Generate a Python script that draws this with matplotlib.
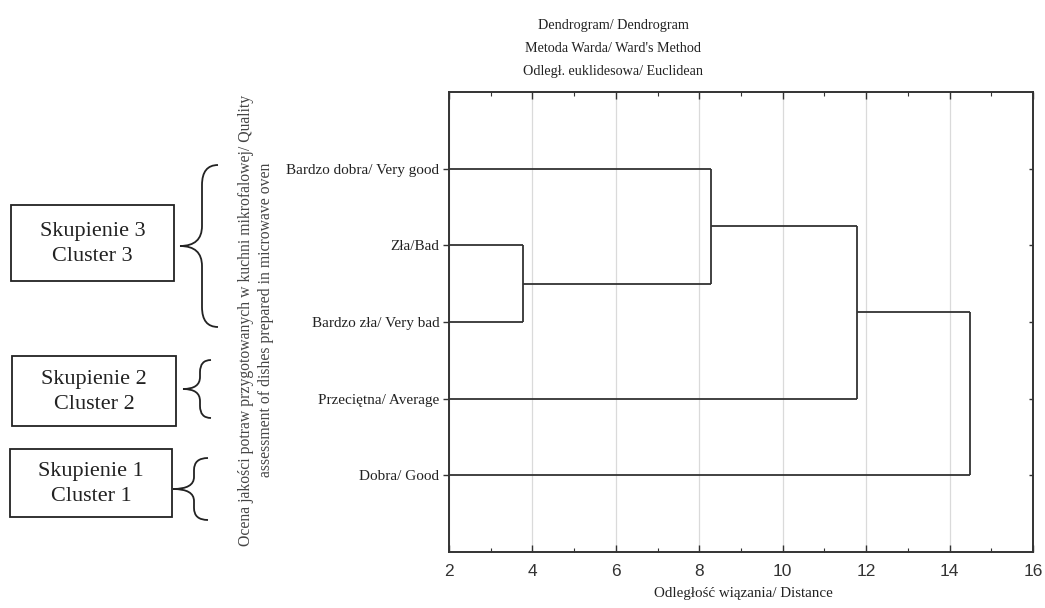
import matplotlib.pyplot as plt
from matplotlib.path import Path
from matplotlib.patches import PathPatch, Rectangle
import numpy as np

# leaves from top to bottom, as in the chart
labels = ["Bardzo dobra/ Very good", "Zła/Bad", "Bardzo zła/ Very bad",
          "Przeciętna/ Average", "Dobra/ Good"]
# linkage: (child a, child b, distance); ids >= 5 refer to earlier merges
merge_a = [1, 0, 6, 7]
merge_b = [2, 5, 3, 4]
merge_dist = [3.77, 8.27, 11.77, 14.5]

x_min, x_max = 2, 16
x_ticks = [2, 4, 6, 8, 10, 12, 14, 16]

title_lines = ["Dendrogram/ Dendrogram", "Metoda Warda/ Ward's Method",
               "Odległ. euklidesowa/ Euclidean"]
x_label = "Odległość wiązania/ Distance"
y_label = ("Ocena jakości potraw przygotowanych w kuchni mikrofalowej/ Quality\n"
           "assessment of dishes prepared in microwave oven")

cluster_names = ["Skupienie 3\nCluster 3", "Skupienie 2\nCluster 2", "Skupienie 1\nCluster 1"]

SERIF = "Liberation Serif"
SANS = "Liberation Sans"
LINE = "#333333"

W, H = 1045, 608
fig = plt.figure(figsize=(W / 100, H / 100), dpi=100)


def fx(px):
    return px / W


def fy(py):
    return 1 - py / H


ax = fig.add_axes([fx(449), fy(552), fx(1033 - 449), (552 - 92) / H])

# dendrogram
n = len(labels)
pos_y = list(range(1, n + 1))
pos_x = [x_min] * n
for a, b, d in zip(merge_a, merge_b, merge_dist):
    for c in (a, b):
        ax.plot([pos_x[c], d], [pos_y[c], pos_y[c]], color=LINE, lw=1.3,
                solid_capstyle="butt", zorder=3)
    ax.plot([d, d], [pos_y[a], pos_y[b]], color=LINE, lw=1.3,
            solid_capstyle="butt", zorder=3)
    pos_y.append((pos_y[a] + pos_y[b]) / 2)
    pos_x.append(d)

ax.set_xlim(x_min, x_max)
ax.set_ylim(n + 1, 0)
ax.set_xticks(x_ticks)
ax.set_xticks(np.arange(3, 16, 2), minor=True)
ax.set_yticks(range(1, n + 1))
ax.set_yticklabels(labels, family=SERIF, fontsize=11, color="#222222")
ax.set_xticklabels([str(t) for t in x_ticks], family=SANS, fontsize=12.5,
                   color="#333333")
ax.grid(axis="x", which="major", color="#dadada", lw=0.9, zorder=0)
ax.tick_params(axis="x", which="major", direction="in", top=True, length=5,
               width=1, color=LINE, pad=9)
ax.tick_params(axis="x", which="minor", direction="in", top=True, length=3,
               width=0.8, color=LINE)
ax.tick_params(axis="y", which="major", direction="out", left=True, length=4,
               width=1, color=LINE, pad=3)
for sp in ax.spines.values():
    sp.set_color(LINE)
    sp.set_linewidth(1.4)

# right-side inward ticks
ax2 = ax.twinx()
ax2.set_ylim(n + 1, 0)
ax2.set_yticks(range(1, n + 1))
ax2.set_yticklabels([])
ax2.tick_params(axis="y", direction="in", length=3, width=1, color=LINE)
for sp in ax2.spines.values():
    sp.set_visible(False)

# titles and axis labels
for i, t in enumerate(title_lines):
    fig.text(fx(613), fy(25 + i * 23), t, family=SERIF, fontsize=10.2,
             ha="center", va="center", color="#222222")
fig.text(fx(743), fy(594), x_label, family=SERIF, fontsize=10.8,
         ha="center", va="center", color="#222222")
fig.text(fx(256), fy(320), y_label, family=SERIF, fontsize=11.3, rotation=90,
         ha="center", va="center", multialignment="center", color="#444444",
         linespacing=1.35)

# cluster boxes and braces (layout: px boxes, brace geometry)
boxes = [(11, 205, 174, 281), (12, 356, 176, 426), (10, 449, 172, 517)]
braces = [(218, 165, 327, 202, 180, 20), (211, 360, 418, 200, 183, 12),
          (208, 458, 520, 194, 173, 12)]

for name, (x0, y0, x1, y1) in zip(cluster_names, boxes):
    fig.patches.append(Rectangle((fx(x0), fy(y1)), fx(x1 - x0), (y1 - y0) / H,
                                 transform=fig.transFigure, fill=False,
                                 ec="#222222", lw=1.3))
    fig.text(fx((x0 + x1) / 2), fy((y0 + y1) / 2 + 1), name, family=SERIF,
             fontsize=16, ha="center", va="center", linespacing=1.45,
             color="#222222")

for xr, yt, yb, xv, xt, r in braces:
    yc = (yt + yb) / 2
    pts = [(xr, yt), (xv, yt), (xv, yt + r), (xv, yc - r), (xv, yc), (xt, yc),
           (xv, yc), (xv, yc + r), (xv, yb - r), (xv, yb), (xr, yb)]
    codes = [Path.MOVETO, Path.CURVE3, Path.CURVE3, Path.LINETO, Path.CURVE3,
             Path.CURVE3, Path.CURVE3, Path.CURVE3, Path.LINETO, Path.CURVE3,
             Path.CURVE3]
    verts = [(fx(px), fy(py)) for px, py in pts]
    fig.patches.append(PathPatch(Path(verts, codes), transform=fig.transFigure,
                                 fill=False, ec="#222222", lw=1.3))

fig.savefig("out.png", dpi=100)
